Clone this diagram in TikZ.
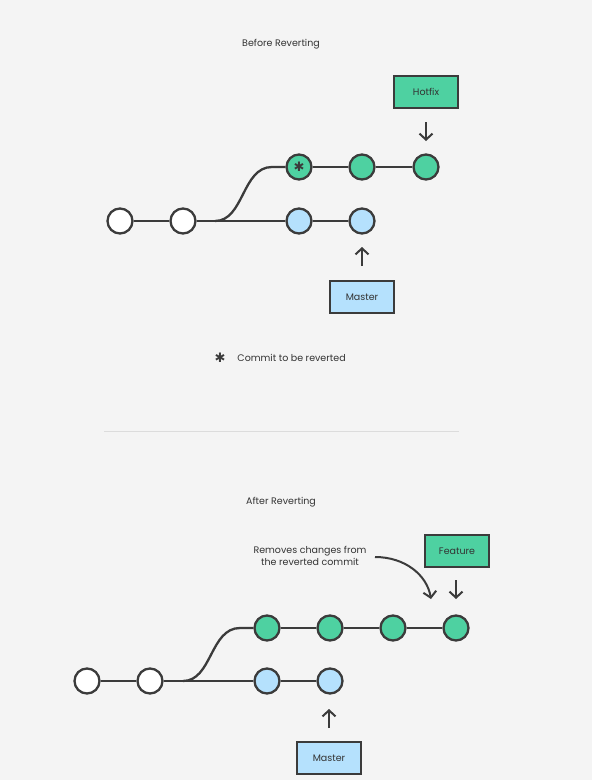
\documentclass[tikz,border=0pt]{standalone}
\usepackage{fontspec}
\setmainfont{Poppins}
\newfontfamily\symfont{DejaVu Sans}
\usetikzlibrary{arrows.meta}
\definecolor{bggray}{HTML}{F4F4F4}
\definecolor{linegray}{HTML}{3B3B3B}
\definecolor{textgray}{HTML}{333333}
\definecolor{featgreen}{HTML}{4ED1A1}
\definecolor{mastblue}{HTML}{B5E1FD}
\definecolor{rulegray}{HTML}{DCDCDC}
\tikzset{
    commit/.style={circle, draw=linegray, line width=2.3pt, minimum size=25pt, inner sep=0pt},
    label box/.style={draw=linegray, line width=2.2pt, minimum width=64pt, minimum height=32pt,
        font=\fontsize{9.5}{11}\selectfont, text=textgray},
    pointer/.style={-{Straight Barb[length=6pt, width=13pt, line width=2pt]}, line width=2pt, draw=linegray},
    caption/.style={font=\fontsize{9.5}{11}\selectfont, text=textgray},
    star/.style={text=linegray, font=\symfont\fontsize{13}{13}\selectfont, inner sep=0pt}
}
\begin{document}
\begin{tikzpicture}[x=1pt, y=-1pt, line width=2.3pt, draw=linegray]
        \fill[bggray] (0, 0) rectangle (592, 780);
        \useasboundingbox (0, 0) rectangle (592, 780);
        % before reverting
        \node[caption] (t1) at (281, 44) {Before Reverting};
        \begin{scope}[every node/.style={commit}]
            \node[fill=white] (a1) at (120, 221) {};
            \node[fill=white] (a2) at (183, 221) {};
            \node[fill=mastblue] (a3) at (299, 221) {};
            \node[fill=mastblue] (a4) at (362, 221) {};
            \node[fill=featgreen] (a5) at (299, 167) {};
            \node[fill=featgreen] (a6) at (362, 167) {};
            \node[fill=featgreen] (a7) at (426, 167) {};
        \end{scope}
        \node[star] (ast1) at (a5) {✱};
        \coordinate (ab) at (215, 221);
        \coordinate (at) at (272, 167);
        \begin{scope}[linegray]
            \path [-, draw] (a1) edge (a2);
            \path [-, draw] (a2) edge (a3);
            \path [-, draw] (a3) edge (a4);
            \path [-, draw] (a5) edge (a6);
            \path [-, draw] (a6) edge (a7);
            \draw (ab) .. controls (244, 221) and (242, 167) .. (at) -- (a5);
        \end{scope}
        \node[label box, fill=featgreen] (hotfix) at (426, 92) {Hotfix};
        \node[label box, fill=mastblue] (master1) at (362, 297) {Master};
        \coordinate (p1s) at (426, 122);
        \coordinate (p1e) at (426, 141);
        \coordinate (p2s) at (362, 266);
        \coordinate (p2e) at (362, 247);
        \draw[pointer] (p1s) -- (p1e);
        \draw[pointer] (p2s) -- (p2e);
        \node[star] (ast2) at (220, 358) {✱};
        \node[caption, anchor=west] (legend) at (233, 358) {Commit to be reverted};
        % separator
        \coordinate (r1) at (104, 431);
        \coordinate (r2) at (459, 431);
        \draw[rulegray, line width=1pt] (r1) -- (r2);
        % after reverting
        \node[caption] (t2) at (281, 502) {After Reverting};
        \begin{scope}[every node/.style={commit}]
            \node[fill=white] (b1) at (87, 681) {};
            \node[fill=white] (b2) at (150, 681) {};
            \node[fill=mastblue] (b3) at (267, 681) {};
            \node[fill=mastblue] (b4) at (330, 681) {};
            \node[fill=featgreen] (b5) at (267, 628) {};
            \node[fill=featgreen] (b6) at (330, 628) {};
            \node[fill=featgreen] (b7) at (393, 628) {};
            \node[fill=featgreen] (b8) at (456, 628) {};
        \end{scope}
        \coordinate (bb) at (183, 681);
        \coordinate (bt) at (240, 628);
        \begin{scope}[linegray]
            \path [-, draw] (b1) edge (b2);
            \path [-, draw] (b2) edge (b3);
            \path [-, draw] (b3) edge (b4);
            \path [-, draw] (b5) edge (b6);
            \path [-, draw] (b6) edge (b7);
            \path [-, draw] (b7) edge (b8);
            \draw (bb) .. controls (212, 681) and (210, 628) .. (bt) -- (b5);
        \end{scope}
        \node[label box, fill=featgreen] (feature) at (457, 551) {Feature};
        \node[label box, fill=mastblue] (master2) at (329, 758) {Master};
        \coordinate (p3s) at (456, 580);
        \coordinate (p3e) at (456, 599);
        \coordinate (p4s) at (329, 728);
        \coordinate (p4e) at (329, 709);
        \draw[pointer] (p3s) -- (p3e);
        \draw[pointer] (p4s) -- (p4e);
        \node[caption, align=center, font=\fontsize{9.5}{12}\selectfont] (note) at (310, 556) {Removes changes from\\the reverted commit};
        \coordinate (ns) at (375, 557);
        \coordinate (ne) at (431, 599);
        \draw[pointer] (ns) .. controls (405, 557) and (427, 575) .. (ne);
    \end{tikzpicture}
\end{document}
